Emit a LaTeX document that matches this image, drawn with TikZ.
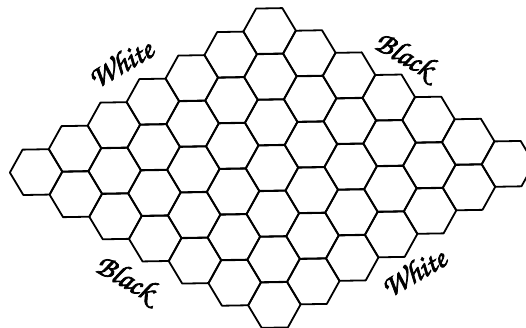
\documentclass[tikz,border=0pt]{standalone}
\usepackage[T1,TU]{fontenc}
\usetikzlibrary{shapes.geometric}
\newcommand{\thicktext}[1]{\special{pdf:literal direct 2 Tr 0.7 w}#1\special{pdf:literal direct 0 Tr}}
\begin{document}
\begin{tikzpicture}[x=1pt,y=-1pt,
  hexcell/.style={regular polygon, regular polygon sides=6, minimum size=52.4pt,
    inner sep=0pt, outer sep=0pt, draw=black, line width=1.8pt, line join=round},
  sidelabel/.style={inner sep=0pt,
    font=\fontencoding{T1}\fontfamily{pzc}\fontseries{mb}\fontshape{it}\fontsize{31}{34}\selectfont}]
\useasboundingbox (0,0) rectangle (526,327);
\begin{scope}[rotate around={1:(272,168)}, transform shape]
  \foreach \i in {0,...,6}{
    \foreach \j in {0,...,6}{
      \node[hexcell] (h\i\j) at ({272+39.33*(\j-\i)},{31+22.83*(\i+\j)}) {};
    }
  }
\end{scope}
\node[sidelabel, rotate=30]  (wtop) at (120,63)  {\thicktext{White}};
\node[sidelabel, rotate=-30] (btop) at (404,56)  {\thicktext{Black}};
\node[sidelabel, rotate=-30] (bbot) at (125,279) {\thicktext{Black}};
\node[sidelabel, rotate=30]  (wbot) at (413,272) {\thicktext{White}};
\end{tikzpicture}
\end{document}
